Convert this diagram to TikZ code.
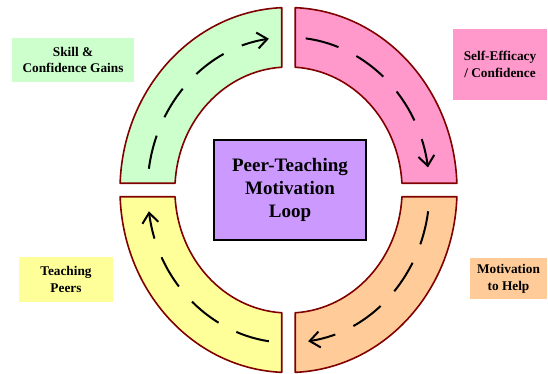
\documentclass[tikz,border=0pt]{standalone}
\usepackage{fontspec}
\setmainfont{Liberation Serif}
\usetikzlibrary{arrows.meta}
\definecolor{cgreen}{HTML}{CCFFCC}
\definecolor{cpink}{HTML}{FF99CC}
\definecolor{corange}{HTML}{FFCC99}
\definecolor{cyellow}{HTML}{FFFF99}
\definecolor{cpurple}{HTML}{CC99FF}
\definecolor{cedge}{HTML}{800000}
\tikzset{
  sector/.style={draw=cedge, line width=1.6pt, line join=round},
  flow/.style={draw=black, line width=2pt, dash pattern=on 34pt off 20pt,
    -{Straight Barb[length=10pt,width=16pt,line width=2pt]}},
  label/.style={inner sep=0pt, align=center, font=\fontsize{13.3}{16.7}\selectfont\bfseries},
  title/.style={draw=black, line width=1.5pt, fill=cpurple, inner sep=0pt, align=center,
    minimum width=152pt, minimum height=100pt, font=\fontsize{19}{23}\selectfont\bfseries}
}
\newcommand{\ringsector}[5]{%
  % #1 fill, #2 outer start, #3 outer end, #4 inner start, #5 inner end
  \path[sector, fill=#1] ([shift={(#2:168.5 and 182.5)}]C) arc[start angle=#2, end angle=#3, x radius=168.5pt, y radius=182.5pt]
    -- ([shift={(#4:113.6 and 123)}]C) arc[start angle=#4, end angle=#5, x radius=113.6pt, y radius=123pt] -- cycle;%
}
\begin{document}
\begin{tikzpicture}[x=1pt, y=1pt]
\useasboundingbox (0,0) rectangle (548,373);
\coordinate (C) at (288.5,183);
% sectors
\ringsector{cgreen}{92.296}{177.88}{176.854}{93.406}
\ringsector{cpink}{87.704}{2.12}{3.146}{86.594}
\ringsector{corange}{-2.12}{-87.704}{-86.594}{-3.146}
\ringsector{cyellow}{182.12}{267.704}{266.594}{183.146}
% flow arrows
\draw[flow] ([shift={(172:141 and 152.75)}]C) arc[start angle=172, end angle=98, x radius=141pt, y radius=152.75pt];
\draw[flow] ([shift={(83:141 and 152.75)}]C) arc[start angle=83, end angle=8.5, x radius=141pt, y radius=152.75pt];
\draw[flow] ([shift={(-8:141 and 152.75)}]C) arc[start angle=-8, end angle=-82, x radius=141pt, y radius=152.75pt];
\draw[flow] ([shift={(262:141 and 152.75)}]C) arc[start angle=262, end angle=188, x radius=141pt, y radius=152.75pt];
% labels
\node[label, fill=cgreen, minimum width=122pt, minimum height=44pt] (skill) at (73,313) {Skill \&\\Confidence Gains};
\node[label, fill=cpink, minimum width=94pt, minimum height=71pt] (self) at (500,308.5) {Self-Efficacy\\/ Confidence};
\node[label, fill=corange, minimum width=77pt, minimum height=41pt] (help) at (508.5,94.5) {Motivation\\to Help};
\node[label, fill=cyellow, minimum width=94pt, minimum height=45pt] (teach) at (66,93.5) {Teaching\\Peers};
\node[title] (loop) at (290,183) {Peer-Teaching\\Motivation\\Loop};
\end{tikzpicture}
\end{document}
